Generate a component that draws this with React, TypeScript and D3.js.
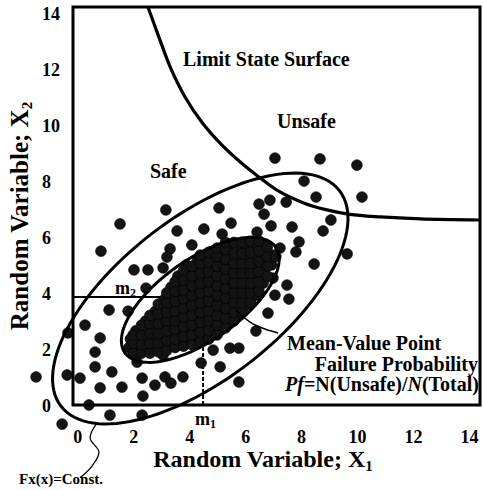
import React from "react";
import * as d3 from "d3";

// ---------- data ----------
const xTicks = [0, 2, 4, 6, 8, 10, 12, 14];
const yTicks = [0, 2, 4, 6, 8, 10, 12, 14];

const meanPoint = [4.55, 3.85]; // m1, m2

// scattered samples (X1, X2)
const outerDots: [number, number][] = [
  [7.12, 8.81], [8.73, 8.78], [10.05, 8.56], [8.16, 7.99], [10.23, 7.42], [8.59, 7.42],
  [6.94, 7.31], [7.52, 7.24], [6.55, 7.17], [6.73, 6.81], [5.12, 7.03], [3.22, 6.96],
  [9.12, 6.6], [6.98, 6.39], [7.73, 6.35], [5.55, 6.49], [1.58, 6.46], [3.62, 6.21],
  [4.58, 6.28], [5.23, 6.1], [6.48, 6.17], [8.84, 6.21], [7.98, 5.82], [4.15, 5.71],
  [0.9, 5.49], [3.37, 5.57], [3.26, 5.28], [2.08, 4.82], [2.58, 4.82], [3.12, 4.89],
  [2.51, 4.17], [7.3, 5.6], [7.87, 5.46], [9.7, 5.39], [8.52, 5.03], [7.05, 4.53],
  [7.55, 4.28], [7.12, 3.92], [7.62, 3.78], [6.87, 3.28], [6.44, 2.64],
  [1.19, 3.39], [1.87, 3.35], [0.33, 2.85], [-0.28, 2.57], [0.87, 2.39], [0.69, 1.89],
  [0.69, 1.36], [1.29, 1.18], [-0.31, 1.07], [0.15, 0.96], [-1.42, 1.0], [0.87, 0.61],
  [1.65, 0.64], [2.37, 0.96], [2.83, 0.71], [3.19, 1.0], [3.4, 0.78], [3.83, 1.0],
  [2.4, 0.32], [0.47, 0.0], [1.22, -0.36], [2.37, -0.36], [-0.49, -0.68],
  [4.91, 1.96], [5.51, 2.03], [5.83, 2.03], [4.48, 1.5], [5.16, 1.36], [5.83, 0.82],
  [4.26, 2.28], [3.12, 1.78], [2.19, 1.53],
];

// dense samples around the mean-value point
const clusterDots: [number, number][] = [
  [1.9, 2.05], [1.95, 2.35],
  [2.2, 1.95], [2.25, 2.3], [2.15, 2.65],
  [2.5, 2.0], [2.45, 2.35], [2.55, 2.7], [2.5, 3.0],
  [2.8, 2.0], [2.85, 2.35], [2.75, 2.7], [2.8, 3.05], [2.85, 3.35],
  [3.1, 2.0], [3.05, 2.35], [3.15, 2.7], [3.1, 3.05], [3.05, 3.4], [3.15, 3.75],
  [3.4, 2.1], [3.45, 2.45], [3.35, 2.8], [3.4, 3.15], [3.45, 3.5], [3.35, 3.85], [3.4, 4.2],
  [3.7, 2.15], [3.65, 2.5], [3.75, 2.85], [3.7, 3.2], [3.65, 3.55], [3.75, 3.9], [3.7, 4.25], [3.65, 4.6],
  [4.0, 2.25], [4.05, 2.6], [3.95, 2.95], [4.0, 3.3], [4.05, 3.65], [3.95, 4.0], [4.0, 4.35], [4.05, 4.7], [3.95, 5.0],
  [4.3, 2.35], [4.25, 2.7], [4.35, 3.05], [4.3, 3.4], [4.25, 3.75], [4.35, 4.1], [4.3, 4.45], [4.25, 4.8], [4.35, 5.15],
  [4.6, 2.45], [4.65, 2.8], [4.55, 3.15], [4.6, 3.5], [4.65, 3.85], [4.55, 4.2], [4.6, 4.55], [4.65, 4.9], [4.55, 5.25],
  [4.9, 2.55], [4.85, 2.9], [4.95, 3.25], [4.9, 3.6], [4.85, 3.95], [4.95, 4.3], [4.9, 4.65], [4.85, 5.0], [4.95, 5.35],
  [5.2, 2.75], [5.25, 3.1], [5.15, 3.45], [5.2, 3.8], [5.25, 4.15], [5.15, 4.5], [5.2, 4.85], [5.25, 5.2], [5.15, 5.55],
  [5.5, 3.0], [5.45, 3.35], [5.55, 3.7], [5.5, 4.05], [5.45, 4.4], [5.55, 4.75], [5.5, 5.1], [5.45, 5.45], [5.55, 5.75],
  [5.8, 3.25], [5.85, 3.6], [5.75, 3.95], [5.8, 4.3], [5.85, 4.65], [5.75, 5.0], [5.8, 5.35], [5.85, 5.7],
  [6.1, 3.55], [6.05, 3.9], [6.15, 4.25], [6.1, 4.6], [6.05, 4.95], [6.15, 5.3], [6.1, 5.65],
  [6.4, 3.9], [6.45, 4.25], [6.35, 4.6], [6.4, 4.95], [6.45, 5.3], [6.35, 5.65],
  [6.7, 4.35], [6.65, 4.7], [6.75, 5.05], [6.7, 5.4], [6.65, 5.75],
  [7.0, 5.0], [7.05, 5.35],
  // in-between samples
  [2.05, 1.85], [2.05, 2.2], [2.05, 2.5],
  [2.35, 1.85], [2.35, 2.15], [2.35, 2.5], [2.35, 2.85],
  [2.65, 1.85], [2.65, 2.2], [2.65, 2.55], [2.65, 2.9], [2.65, 3.2],
  [2.95, 1.9], [2.95, 2.2], [2.95, 2.55], [2.95, 2.9], [2.95, 3.25], [2.95, 3.6],
  [3.25, 1.95], [3.25, 2.3], [3.25, 2.65], [3.25, 3.0], [3.25, 3.3], [3.25, 3.65], [3.25, 4.0],
  [3.55, 2.05], [3.55, 2.35], [3.55, 2.7], [3.55, 3.0], [3.55, 3.35], [3.55, 3.7], [3.55, 4.05], [3.55, 4.4],
  [3.85, 2.1], [3.85, 2.45], [3.85, 2.8], [3.85, 3.15], [3.85, 3.45], [3.85, 3.8], [3.85, 4.1], [3.85, 4.45], [3.85, 4.8],
  [4.15, 2.15], [4.15, 2.5], [4.15, 2.85], [4.15, 3.2], [4.15, 3.55], [4.15, 3.9], [4.15, 4.25], [4.15, 4.6], [4.15, 4.95],
  [4.45, 2.25], [4.45, 2.6], [4.45, 2.95], [4.45, 3.3], [4.45, 3.65], [4.45, 4.0], [4.45, 4.35], [4.45, 4.7], [4.45, 5.05], [4.45, 5.35],
  [4.75, 2.35], [4.75, 2.65], [4.75, 3.0], [4.75, 3.35], [4.75, 3.7], [4.75, 4.05], [4.75, 4.4], [4.75, 4.75], [4.75, 5.1], [4.75, 5.45],
  [5.05, 2.5], [5.05, 2.85], [5.05, 3.2], [5.05, 3.55], [5.05, 3.9], [5.05, 4.25], [5.05, 4.6], [5.05, 4.95], [5.05, 5.3], [5.05, 5.6],
  [5.35, 2.75], [5.35, 3.1], [5.35, 3.45], [5.35, 3.8], [5.35, 4.15], [5.35, 4.5], [5.35, 4.85], [5.35, 5.2], [5.35, 5.55], [5.35, 5.8],
  [5.65, 3.0], [5.65, 3.3], [5.65, 3.65], [5.65, 4.0], [5.65, 4.35], [5.65, 4.7], [5.65, 5.05], [5.65, 5.4], [5.65, 5.8],
  [5.95, 3.3], [5.95, 3.65], [5.95, 4.0], [5.95, 4.35], [5.95, 4.7], [5.95, 5.05], [5.95, 5.4], [5.95, 5.8],
  [6.25, 3.65], [6.25, 4.0], [6.25, 4.35], [6.25, 4.7], [6.25, 5.05], [6.25, 5.45], [6.25, 5.85],
  [6.55, 4.05], [6.55, 4.4], [6.55, 4.75], [6.55, 5.1], [6.55, 5.5], [6.55, 5.85],
  [6.85, 4.6], [6.85, 4.95], [6.85, 5.3], [6.85, 5.65],
  [7.15, 5.3],
];

// limit state surface g(X1, X2) = 0
const limitCurve: [number, number][] = [
  [2.58, 14.2], [2.98, 13.1], [3.4, 12.0], [3.9, 11.0], [4.5, 10.1], [5.2, 9.3],
  [5.9, 8.65], [6.59, 8.1], [7.3, 7.6], [8.12, 7.22], [8.98, 6.96], [9.8, 6.8],
  [10.88, 6.71], [12.31, 6.64], [14.45, 6.6],
];

// ellipses: [cx, cy, semi-major, semi-minor, angle deg]
const outerEllipse = [4.45, 3.8, 6.29, 2.89, 37.7];
const innerEllipse = [4.45, 3.75, 3.29, 1.45, 35];

const meanLeader: [number, number][] = [[5.73, 3.39], [6.23, 2.96], [6.76, 2.71], [7.23, 2.57]];
const fxLeader: [number, number][] = [[0.76, -0.64], [0.51, -1.18], [0.83, -1.68], [0.58, -2.18], [0.15, -2.6]];

// ---------- layout ----------
const W = 483;
const H = 490;
const frame = { left: 73, right: 480, top: 7, bottom: 405 };
const FONT = "'Liberation Serif', 'Times New Roman', serif";

const x = d3.scaleLinear().domain([-0.1, 14.45]).range([frame.left, frame.right]);
const y = d3.scaleLinear().domain([0, 14.2]).range([frame.bottom, frame.top]);

function ellipsePath(p: number[]) {
  const [cx, cy, a, b, deg] = p;
  const th = (deg * Math.PI) / 180;
  const pts: [number, number][] = d3.range(0, 361, 3).map((t) => {
    const r = (t * Math.PI) / 180;
    return [
      cx + a * Math.cos(r) * Math.cos(th) - b * Math.sin(r) * Math.sin(th),
      cy + a * Math.cos(r) * Math.sin(th) + b * Math.sin(r) * Math.cos(th),
    ];
  });
  return d3.line<[number, number]>().x((d) => x(d[0])).y((d) => y(d[1])).curve(d3.curveLinearClosed)(pts) || "";
}

const smooth = d3.line<[number, number]>().x((d) => x(d[0])).y((d) => y(d[1])).curve(d3.curveCatmullRom);

export default function App() {
  const mx = x(meanPoint[0]);
  const my = y(meanPoint[1]);
  const bold = { fontFamily: FONT, fontWeight: 700, fill: "#000" } as const;
  return (
    <svg width={W} height={H} style={{ position: "absolute", left: 0, top: 0, background: "#fff" }}>
      <rect x={0} y={0} width={W} height={H} fill="#fff" />
      {/* mean lines */}
      <line x1={frame.left} x2={mx} y1={my} y2={my} stroke="#000" strokeWidth={2} />
      <line x1={mx} x2={mx} y1={frame.bottom} y2={my} stroke="#000" strokeWidth={2} strokeDasharray="4,2" />

      {/* dots */}
      {outerDots.concat(clusterDots).map((d, i) => (
        <circle key={i} cx={x(d[0])} cy={y(d[1])} r={5.4} fill="#141414" stroke="#000" strokeWidth={0.6} />
      ))}

      {/* ellipses */}
      <path d={ellipsePath(outerEllipse)} fill="none" stroke="#000" strokeWidth={3} />
      <path d={ellipsePath(innerEllipse)} fill="none" stroke="#000" strokeWidth={3} />

      {/* limit state */}
      <path d={smooth(limitCurve) || ""} fill="none" stroke="#000" strokeWidth={3.2} />

      {/* leaders */}
      <path d={smooth(meanLeader) || ""} fill="none" stroke="#000" strokeWidth={1.5} />
      <path d={smooth(fxLeader) || ""} fill="none" stroke="#000" strokeWidth={1.3} />

      {/* frame */}
      <rect x={frame.left} y={frame.top} width={frame.right - frame.left} height={frame.bottom - frame.top}
        fill="none" stroke="#000" strokeWidth={3} />

      {/* ticks */}
      {xTicks.map((t) => (
        <text key={"x" + t} x={x(t) + 2} y={443} textAnchor="middle" fontSize={18} {...bold}>{t}</text>
      ))}
      {yTicks.map((t) => (
        <text key={"y" + t} x={42} y={y(t) + 7} textAnchor="start" fontSize={18} {...bold}>{t}</text>
      ))}

      {/* axis titles */}
      <text x={263} y={467} textAnchor="middle" fontSize={24} {...bold}>
        Random Variable; X<tspan fontSize={15} dy={4}>1</tspan>
      </text>
      <text transform="translate(28,216) rotate(-90)" textAnchor="middle" fontSize={25} {...bold}>
        Random Variable; X<tspan fontSize={15} dy={4}>2</tspan>
      </text>

      {/* annotations */}
      <text x={183} y={66} fontSize={20} {...bold}>Limit State Surface</text>
      <text x={277} y={128} fontSize={20} {...bold}>Unsafe</text>
      <text x={150} y={178} fontSize={20} {...bold}>Safe</text>
      <text x={115} y={294} fontSize={18} {...bold}>m<tspan fontSize={12} dy={3}>2</tspan></text>
      <text x={195} y={425} fontSize={18} {...bold}>m<tspan fontSize={12} dy={3}>1</tspan></text>
      <text x={287} y={350} fontSize={20} {...bold}>Mean-Value Point</text>
      <text x={478} y={371} textAnchor="end" fontSize={20} {...bold}>Failure Probability</text>
      <text x={479} y={391} textAnchor="end" fontSize={20} {...bold}>
        <tspan fontStyle="italic">Pf</tspan>=N(Unsafe)/<tspan fontStyle="italic">N</tspan>(Total)
      </text>
      <text x={19} y={484} fontSize={15} {...bold}>Fx(x)=Const.</text>
    </svg>
  );
}
